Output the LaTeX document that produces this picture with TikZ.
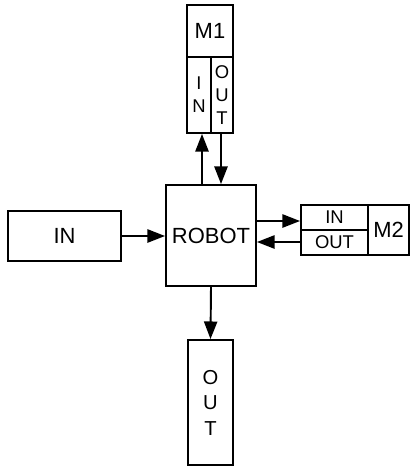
\documentclass[tikz,border=0pt]{standalone}
\usepackage{fontspec}
\setmainfont{Liberation Sans}
\usetikzlibrary{arrows.meta,positioning}

\begin{document}
\begin{tikzpicture}[
    x=0.02cm, y=-0.02cm,
    box/.style={draw, line width=1.1pt, inner sep=0pt, align=center, font=\fontsize{12.5}{14}\selectfont},
    slot/.style={box, font=\fontsize{10.5}{13}\selectfont},
    arr/.style={-{Triangle[length=10pt,width=7.5pt]}, line width=1.1pt}
]
\useasboundingbox (0,0) rectangle (412,470);
% machines
\node[box, minimum width=0.92cm, minimum height=1.04cm] (m1) at (210,31) {M1};
\node[slot, minimum width=0.48cm, minimum height=1.52cm] (m1in) at (199,95) {I\\N};
\node[slot, minimum width=0.44cm, minimum height=1.52cm] (m1out) at (222,95) {O\\U\\T};
\node[slot, minimum width=1.34cm, minimum height=0.50cm] (m2in) at (334.5,217.5) {IN};
\node[slot, minimum width=1.34cm, minimum height=0.50cm] (m2out) at (334.5,242.5) {OUT};
\node[box, minimum width=0.82cm, minimum height=1.00cm] (m2) at (388.5,230) {M2};
% robot and buffers
\node[box, minimum width=1.80cm, minimum height=2.02cm] (robot) at (211,235.5) {ROBOT};
\node[box, minimum width=2.26cm, minimum height=1.00cm] (in) at (64.5,236) {IN};
\node[box, minimum width=0.90cm, minimum height=2.50cm, font=\fontsize{11.5}{14.5}\selectfont] (out) at (210.5,402.5) {O\\U\\T};

\draw[arr] (in.east) -- (robot.west |- in.east);
\draw[arr] ([xshift=0.06cm]m1in.south |- robot.north) -- ([xshift=0.06cm]m1in.south);
\draw[arr] ([xshift=-0.02cm]m1out.south) -- ([xshift=-0.02cm]m1out.south |- robot.north);
\draw[arr] ([yshift=-0.07cm]robot.east |- m2in.west) -- ([yshift=-0.07cm]m2in.west);
\draw[arr] ([yshift=0.01cm]m2out.west) -- ([yshift=0.01cm]robot.east |- m2out.west);
\draw[arr] (robot.south) -- (out.north);
\end{tikzpicture}
\end{document}
